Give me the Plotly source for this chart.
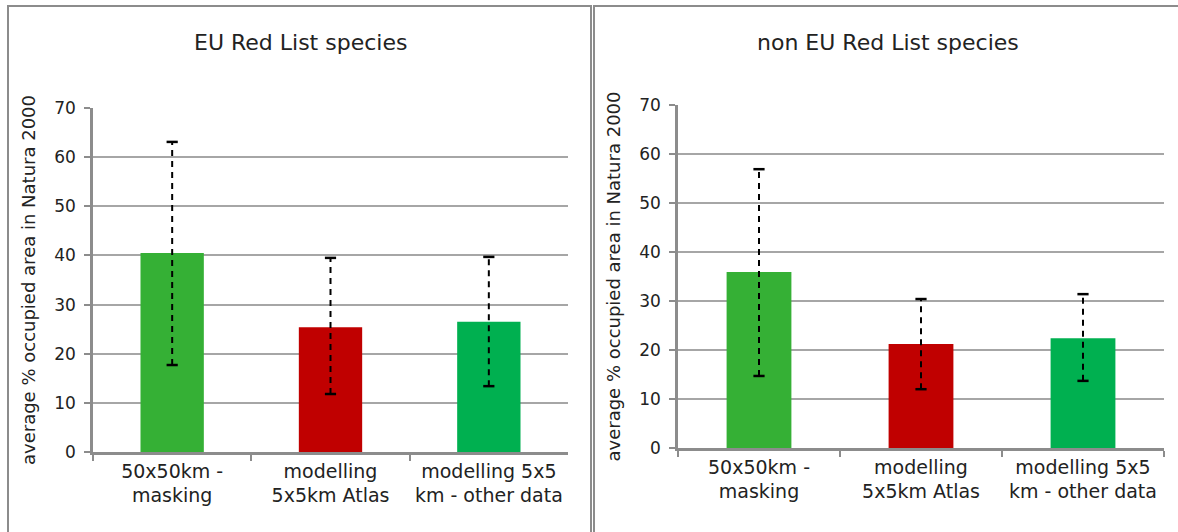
import plotly.graph_objects as go

categories = ["50x50km -<br>masking", "modelling<br>5x5km Atlas", "modelling 5x5<br>km - other data"]
bar_colors = ["#35b035", "#c00000", "#00b050"]

eu_values = [40.5, 25.4, 26.5]
eu_err_low = [17.7, 11.8, 13.4]
eu_err_high = [63.1, 39.5, 39.7]

non_values = [35.9, 21.2, 22.4]
non_err_low = [14.7, 12.0, 13.7]
non_err_high = [56.9, 30.4, 31.4]

titles = ["EU Red List species", "non EU Red List species"]
y_title = "average % occupied area in Natura 2000"
y_ticks = [0, 10, 20, 30, 40, 50, 60, 70]

W, H = 1178, 532
FONT = "DejaVu Sans"

fig = go.Figure()

panels = [
    dict(vals=eu_values, lo=eu_err_low, hi=eu_err_high, xa="x", ya="y",
         xdom=(93, 568), ydom=(452, 108)),
    dict(vals=non_values, lo=non_err_low, hi=non_err_high, xa="x2", ya="y2",
         xdom=(678, 1164), ydom=(448, 105)),
]

for p in panels:
    fig.add_trace(go.Bar(x=categories, y=p["vals"], marker=dict(color=bar_colors, line=dict(width=0)),
                         xaxis=p["xa"], yaxis=p["ya"], showlegend=False, width=0.4))
    for c, lo, hi in zip(categories, p["lo"], p["hi"]):
        fig.add_trace(go.Scatter(x=[c, c], y=[lo, hi], mode="lines+markers",
                                 line=dict(color="black", width=2, dash="6px,5px"),
                                 marker=dict(symbol="line-ew", size=8, line=dict(color="black", width=2.5)),
                                 xaxis=p["xa"], yaxis=p["ya"], showlegend=False, hoverinfo="skip"))

def xdomain(a, b):
    return [a / W, b / W]

def ydomain(bottom, top):
    return [1 - bottom / H, 1 - top / H]

axis_common_x = dict(showgrid=False, showline=True, linecolor="#8c8c8c", linewidth=2.5, automargin=False,
                     ticks="outside", tickson="boundaries", ticklen=6, tickcolor="#8c8c8c", tickwidth=2,
                     tickfont=dict(family=FONT, size=19, color="#222"), fixedrange=True)
axis_common_y = dict(range=[0, 70], tickvals=y_ticks, showgrid=True, gridcolor="#a6a6a6", gridwidth=2,
                     showline=True, linecolor="#8c8c8c", linewidth=2.5, ticks="outside", ticklen=6,
                     tickcolor="#8c8c8c", tickwidth=2, zeroline=False, automargin=False, fixedrange=True,
                     ticklabelstandoff=5,
                     tickfont=dict(family=FONT, size=17, color="#222"),
                     title=dict(text=y_title, font=dict(family=FONT, size=18, color="#222"), standoff=14))

fig.update_layout(
    width=W, height=H, margin=dict(l=0, r=0, t=0, b=0, autoexpand=False),
    paper_bgcolor="white", plot_bgcolor="white", bargap=0.6,
    xaxis=dict(domain=xdomain(*panels[0]["xdom"]), anchor="y", **axis_common_x),
    yaxis=dict(domain=ydomain(*panels[0]["ydom"]), anchor="x", **axis_common_y),
    xaxis2=dict(domain=xdomain(*panels[1]["xdom"]), anchor="y2", **axis_common_x),
    yaxis2=dict(domain=ydomain(*panels[1]["ydom"]), anchor="x2", **axis_common_y),
    shapes=[
        dict(type="rect", xref="paper", yref="paper", x0=8 / W, x1=591 / W, y0=-0.05, y1=1 - 6 / H,
             line=dict(color="#8c8c8c", width=2)),
        dict(type="rect", xref="paper", yref="paper", x0=594 / W, x1=1.01, y0=-0.05, y1=1 - 6 / H,
             line=dict(color="#8c8c8c", width=2)),
    ],
    annotations=[
        dict(text=titles[0], x=300 / W, y=1 - 42 / H, xref="paper", yref="paper", showarrow=False,
             xanchor="center", yanchor="middle", font=dict(family=FONT, size=22, color="#222")),
        dict(text=titles[1], x=888 / W, y=1 - 42 / H, xref="paper", yref="paper", showarrow=False,
             xanchor="center", yanchor="middle", font=dict(family=FONT, size=22, color="#222")),
    ],
)

fig.write_html("out.html", config={"displayModeBar": False},
               post_script="document.body.style.margin='0';document.body.style.overflow='hidden';")
